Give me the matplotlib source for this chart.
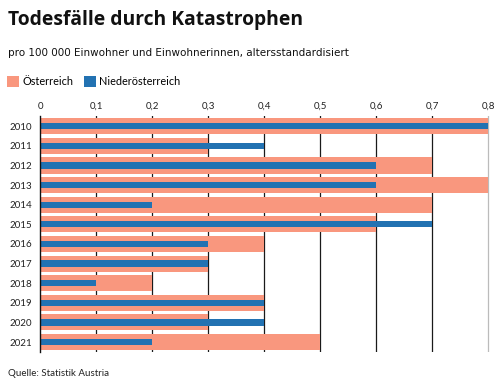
import matplotlib
matplotlib.use("Agg")
from matplotlib import pyplot as plt
from matplotlib.ticker import FuncFormatter

plt.rcParams['font.family'] = ['Lato', 'DejaVu Sans']

years = ["2010", "2011", "2012", "2013", "2014", "2015",
         "2016", "2017", "2018", "2019", "2020", "2021"]
oesterreich = [0.8, 0.3, 0.7, 0.8, 0.7, 0.6, 0.4, 0.3, 0.2, 0.4, 0.3, 0.5]
niederoesterreich = [0.8, 0.4, 0.6, 0.6, 0.2, 0.7, 0.3, 0.3, 0.1, 0.4, 0.4, 0.2]
xticks = [0, 0.1, 0.2, 0.3, 0.4, 0.5, 0.6, 0.7, 0.8]

salmon = "#f9977e"
blue = "#2272b2"

fig = plt.figure(figsize=(5, 3.89), dpi=100)
ax = fig.add_axes([0.08, 0.0956, 0.902, 0.605])

pos = list(range(len(years)))
ax.barh(pos, oesterreich, height=0.82, color=salmon, label="Österreich", zorder=2)
ax.barh(pos, niederoesterreich, height=0.32, color=blue, label="Niederösterreich", zorder=3)

# grid lines behind the bars
for t in xticks[1:]:
    c = "#bbbbbb" if t == 0.8 else "#1a1a1a"
    ax.axvline(t, color=c, lw=0.9, zorder=1)

ax.set_xlim(0, 0.805)
ax.set_ylim(len(years) - 0.5, -0.5)
ax.set_yticks(pos)
ax.set_yticklabels(years)
ax.set_xticks(xticks)
ax.xaxis.set_major_formatter(FuncFormatter(lambda v, p: "0" if v == 0 else f"{v:.1f}".replace(".", ",")))
ax.xaxis.tick_top()
ax.tick_params(axis="both", length=0, labelsize=7, colors="#222222")
ax.tick_params(axis="x", pad=4)
ax.tick_params(axis="y", pad=5.5)
for s in ["top", "right", "bottom"]:
    ax.spines[s].set_visible(False)
ax.spines["left"].set_color("#111111")
ax.spines["left"].set_linewidth(1.0)
ax.spines["left"].set_zorder(4)

fig.text(0.016, 0.948, "Todesfälle durch Katastrophen", fontsize=13.9, fontweight="bold",
         family=["Open Sans", "DejaVu Sans"], color="#111111", va="center")
fig.text(0.016, 0.864, "pro 100 000 Einwohner und Einwohnerinnen, altersstandardisiert",
         fontsize=7.5, family=["DejaVu Sans"], color="#111111", va="center")
fig.legend(loc="center left", bbox_to_anchor=(0.006, 0.79), ncol=2, frameon=False,
           handlelength=1.1, handleheight=1.1, handletextpad=0.3, columnspacing=1.0,
           fontsize=7.8, borderaxespad=0)
fig.text(0.016, 0.041, "Quelle: Statistik Austria", fontsize=7, color="#222222", va="center")

fig.savefig("out.png", dpi=100)
